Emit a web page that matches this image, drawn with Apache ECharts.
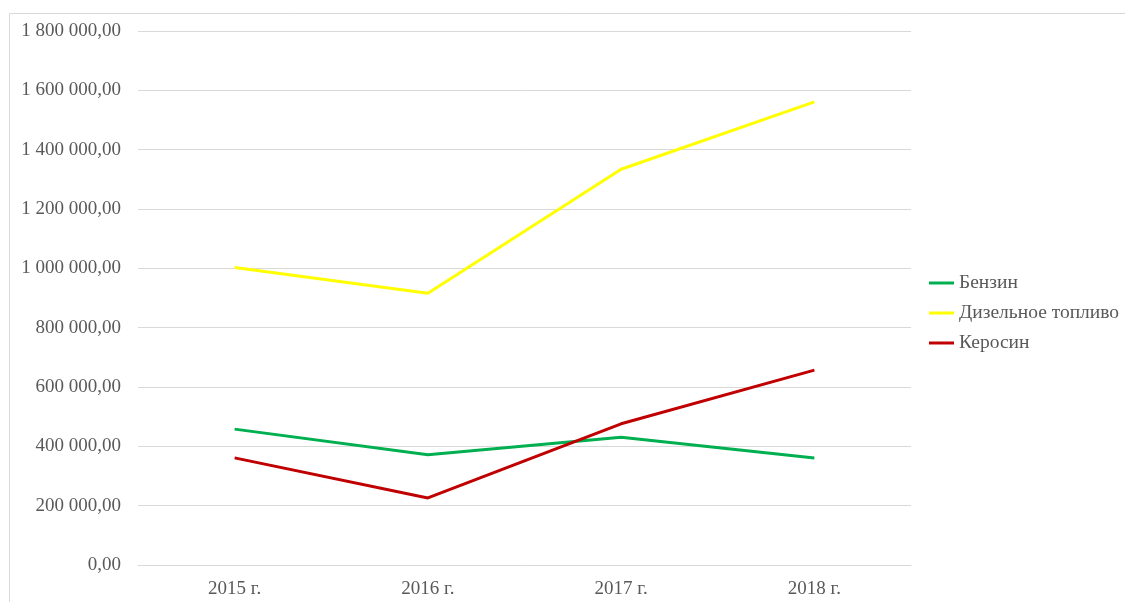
<!DOCTYPE html>
<html>
<head>
<meta charset="utf-8">
<script src="https://cdn.jsdelivr.net/npm/echarts@6/dist/echarts.min.js"></script>
<style>
  html, body { margin: 0; padding: 0; background: #fff; }
  #chart { width: 1125px; height: 602px; }
</style>
</head>
<body>
<div id="chart"></div>
<script>
// категории (годы)
const years = ['2015 г.', '2016 г.', '2017 г.', '2018 г.']
// значения по видам топлива
const benzin = [458000, 372000, 431000, 361000]
const dizel = [1003000, 916000, 1334000, 1561000]
const kerosin = [361000, 226000, 476000, 657000]
const seriesNames = ['Бензин', 'Дизельное топливо', 'Керосин']
const seriesColors = ['#00B050', '#FFFF00', '#C00000']

const font = 'Liberation Serif, Times New Roman, serif'

// формат 1 800 000,00
const fmt = (v) => {
  const s = Math.round(v).toString().replace(/\B(?=(\d{3})+(?!\d))/g, ' ')
  return s + ',00'
}

const chart = echarts.init(document.getElementById('chart'))

const makeLine = (name, data, color) => ({
  name: name,
  type: 'line',
  data: data,
  showSymbol: false,
  symbol: 'none',
  lineStyle: { color: color, width: 3 },
  itemStyle: { color: color }
})

const option = {
  animation: false,
  graphic: [{
    type: 'rect',
    shape: { x: 9.5, y: 13.5, width: 1300, height: 800 },
    style: { fill: 'none', stroke: '#d9d9d9', lineWidth: 1 },
    silent: true
  }],
  grid: { left: 138, right: 214, top: 31, bottom: 37, containLabel: false },
  legend: {
    orient: 'vertical',
    left: 929,
    top: 273,
    padding: 0,
    itemWidth: 25,
    itemHeight: 3,
    itemGap: 10,
    icon: 'rect',
    textStyle: { fontFamily: font, fontSize: 19.5, color: '#595959' },
    data: seriesNames
  },
  xAxis: {
    type: 'category',
    data: years,
    boundaryGap: true,
    axisLine: { lineStyle: { color: '#d9d9d9' } },
    axisTick: { show: false },
    axisLabel: { fontFamily: font, fontSize: 19, color: '#595959', margin: 15 }
  },
  yAxis: {
    type: 'value',
    min: 0,
    max: 1800000,
    interval: 200000,
    axisLine: { show: false },
    axisTick: { show: false },
    splitLine: { lineStyle: { color: '#d9d9d9' } },
    axisLabel: { fontFamily: font, fontSize: 19, color: '#595959', margin: 17, formatter: fmt }
  },
  series: [
    makeLine(seriesNames[0], benzin, seriesColors[0]),
    makeLine(seriesNames[1], dizel, seriesColors[1]),
    makeLine(seriesNames[2], kerosin, seriesColors[2])
  ]
}
chart.setOption(option)
</script>
</body>
</html>
